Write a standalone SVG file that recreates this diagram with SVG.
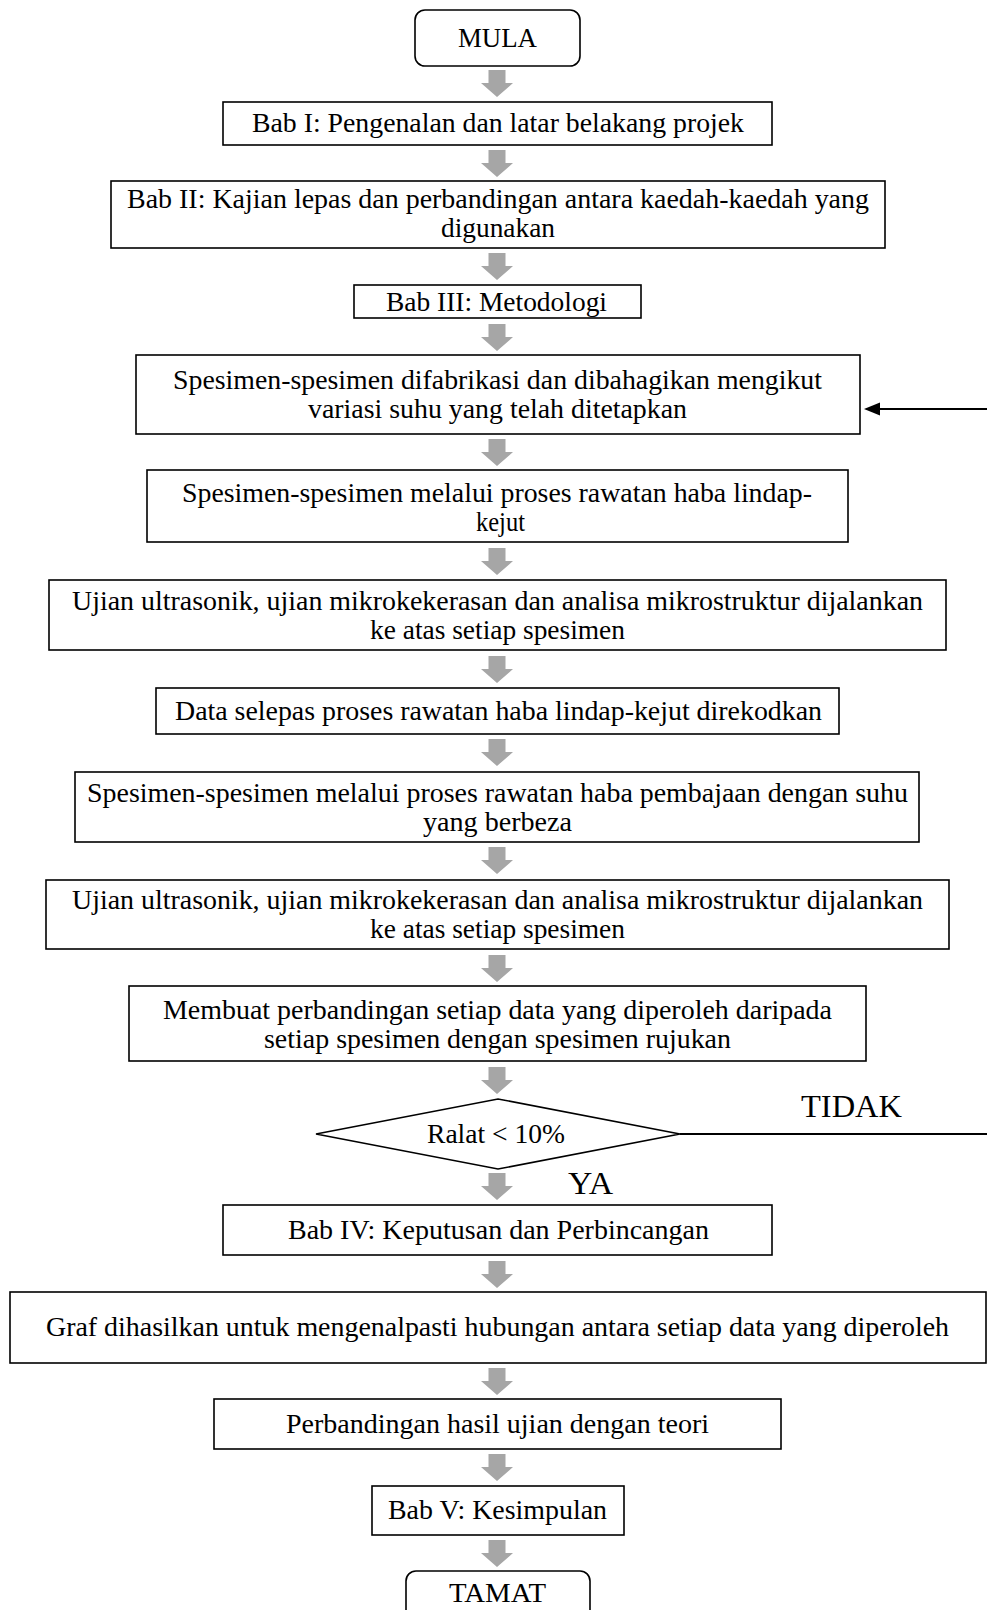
<svg xmlns="http://www.w3.org/2000/svg" xmlns:xlink="http://www.w3.org/1999/xlink" width="987" height="1610" viewBox="0 0 987 1610">
<style>
.b{fill:#fff;stroke:#000;stroke-width:1.6}
.t{font-family:"Liberation Serif","Times New Roman",serif;font-size:27px;fill:#000;text-anchor:middle}
.l{font-family:"Liberation Serif","Times New Roman",serif;font-size:32px;fill:#000;text-anchor:middle}
.c{stroke:#000;stroke-width:2;fill:none}
</style>
<defs>
<path id="blk" d="M-8.5,0 H8.5 V13 H16 L0,27 L-16,13 H-8.5 Z" fill="#a6a6a6"/>
<marker id="ah" markerWidth="10" markerHeight="8" refX="1" refY="4" orient="auto" markerUnits="userSpaceOnUse" viewBox="0 0 10 8">
<path d="M10,0 L0,4 L10,8 Z" fill="#000"/>
</marker>
<marker id="ah2" markerWidth="16" markerHeight="12" refX="0" refY="6" orient="auto-start-reverse" markerUnits="userSpaceOnUse" viewBox="0 0 16 12">
<path d="M0,6 L16,0 L16,12 Z" fill="#000"/>
</marker>
</defs>
<rect width="987" height="1610" fill="#fff"/>

<g id="connectors">
<use href="#blk" x="497" y="70"/>
<use href="#blk" x="497" y="150"/>
<use href="#blk" x="497" y="253"/>
<use href="#blk" x="497" y="324"/>
<use href="#blk" x="497" y="439"/>
<use href="#blk" x="497" y="548"/>
<use href="#blk" x="497" y="656"/>
<use href="#blk" x="497" y="739"/>
<use href="#blk" x="497" y="847"/>
<use href="#blk" x="497" y="955"/>
<use href="#blk" x="497" y="1067"/>
<use href="#blk" x="497" y="1173"/>
<use href="#blk" x="497" y="1261"/>
<use href="#blk" x="497" y="1368"/>
<use href="#blk" x="497" y="1454"/>
<use href="#blk" x="497" y="1540"/>
<line class="c" x1="680" y1="1134" x2="987" y2="1134"/>
<line class="c" x1="987" y1="409" x2="880" y2="409"/>
<path d="M864,409 L880,402.5 L880,415.5 Z" fill="#000"/>
<text class="l" x="851.5" y="1117" textLength="101" lengthAdjust="spacingAndGlyphs">TIDAK</text>
<text class="l" x="590.5" y="1194" textLength="45" lengthAdjust="spacingAndGlyphs">YA</text>
</g>

<g id="mula">
<rect class="b" x="415" y="10" width="165" height="56" rx="10"/>
<text class="t" x="497.5" y="47" textLength="79" lengthAdjust="spacingAndGlyphs">MULA</text>
</g>
<g id="bab1">
<rect class="b" x="223" y="102" width="549" height="43"/>
<text class="t" x="498" y="132" textLength="492" lengthAdjust="spacingAndGlyphs">Bab I: Pengenalan dan latar belakang projek</text>
</g>
<g id="bab2">
<rect class="b" x="111" y="181" width="774" height="67"/>
<text class="t" x="498" y="208" textLength="742" lengthAdjust="spacingAndGlyphs">Bab II: Kajian lepas dan perbandingan antara kaedah-kaedah yang</text>
<text class="t" x="498" y="237" textLength="114" lengthAdjust="spacingAndGlyphs">digunakan</text>
</g>
<g id="bab3">
<rect class="b" x="354" y="285" width="287" height="33"/>
<text class="t" x="496.5" y="311" textLength="221" lengthAdjust="spacingAndGlyphs">Bab III: Metodologi</text>
</g>
<g id="fabrikasi">
<rect class="b" x="136" y="355" width="724" height="79"/>
<text class="t" x="497.5" y="389" textLength="649" lengthAdjust="spacingAndGlyphs">Spesimen-spesimen difabrikasi dan dibahagikan mengikut</text>
<text class="t" x="497.5" y="418" textLength="379" lengthAdjust="spacingAndGlyphs">variasi suhu yang telah ditetapkan</text>
</g>
<g id="lindap">
<rect class="b" x="147" y="470" width="701" height="72"/>
<text class="t" x="497" y="502" textLength="630" lengthAdjust="spacingAndGlyphs">Spesimen-spesimen melalui proses rawatan haba lindap-</text>
<text class="t" x="500.5" y="531" textLength="49" lengthAdjust="spacingAndGlyphs">kejut</text>
</g>
<g id="ujian1">
<rect class="b" x="49" y="580" width="897" height="70"/>
<text class="t" x="497.5" y="610" textLength="851" lengthAdjust="spacingAndGlyphs">Ujian ultrasonik, ujian mikrokekerasan dan analisa mikrostruktur dijalankan</text>
<text class="t" x="497.5" y="639" textLength="255" lengthAdjust="spacingAndGlyphs">ke atas setiap spesimen</text>
</g>
<g id="data">
<rect class="b" x="156" y="688" width="683" height="46"/>
<text class="t" x="498.5" y="720" textLength="647" lengthAdjust="spacingAndGlyphs">Data selepas proses rawatan haba lindap-kejut direkodkan</text>
</g>
<g id="pembajaan">
<rect class="b" x="75" y="772" width="844" height="70"/>
<text class="t" x="497.5" y="802" textLength="821" lengthAdjust="spacingAndGlyphs">Spesimen-spesimen melalui proses rawatan haba pembajaan dengan suhu</text>
<text class="t" x="497.5" y="831" textLength="149" lengthAdjust="spacingAndGlyphs">yang berbeza</text>
</g>
<g id="ujian2">
<rect class="b" x="46" y="880" width="903" height="69"/>
<text class="t" x="497.5" y="909" textLength="851" lengthAdjust="spacingAndGlyphs">Ujian ultrasonik, ujian mikrokekerasan dan analisa mikrostruktur dijalankan</text>
<text class="t" x="497.5" y="938" textLength="255" lengthAdjust="spacingAndGlyphs">ke atas setiap spesimen</text>
</g>
<g id="membuat">
<rect class="b" x="129" y="986" width="737" height="75"/>
<text class="t" x="497.5" y="1019" textLength="669" lengthAdjust="spacingAndGlyphs">Membuat perbandingan setiap data yang diperoleh daripada</text>
<text class="t" x="497.5" y="1048" textLength="467" lengthAdjust="spacingAndGlyphs">setiap spesimen dengan spesimen rujukan</text>
</g>
<g id="ralat">
<polygon class="b" points="316,1134 498,1099 680,1134 498,1169"/>
<text class="t" x="496" y="1143" textLength="138" lengthAdjust="spacingAndGlyphs">Ralat &lt; 10%</text>
</g>
<g id="bab4">
<rect class="b" x="223" y="1205" width="549" height="50"/>
<text class="t" x="498.5" y="1239" textLength="421" lengthAdjust="spacingAndGlyphs">Bab IV: Keputusan dan Perbincangan</text>
</g>
<g id="graf">
<rect class="b" x="10" y="1292" width="976" height="71"/>
<text class="t" x="497.5" y="1336" textLength="903" lengthAdjust="spacingAndGlyphs">Graf dihasilkan untuk mengenalpasti hubungan antara setiap data yang diperoleh</text>
</g>
<g id="perbandingan">
<rect class="b" x="214" y="1399" width="567" height="50"/>
<text class="t" x="497.5" y="1433" textLength="423" lengthAdjust="spacingAndGlyphs">Perbandingan hasil ujian dengan teori</text>
</g>
<g id="bab5">
<rect class="b" x="372" y="1486" width="252" height="49"/>
<text class="t" x="497.5" y="1519" textLength="219" lengthAdjust="spacingAndGlyphs">Bab V: Kesimpulan</text>
</g>
<g id="tamat">
<rect class="b" x="406" y="1571" width="184" height="60" rx="10"/>
<text class="t" x="497.5" y="1602" textLength="97" lengthAdjust="spacingAndGlyphs">TAMAT</text>
</g>
</svg>
